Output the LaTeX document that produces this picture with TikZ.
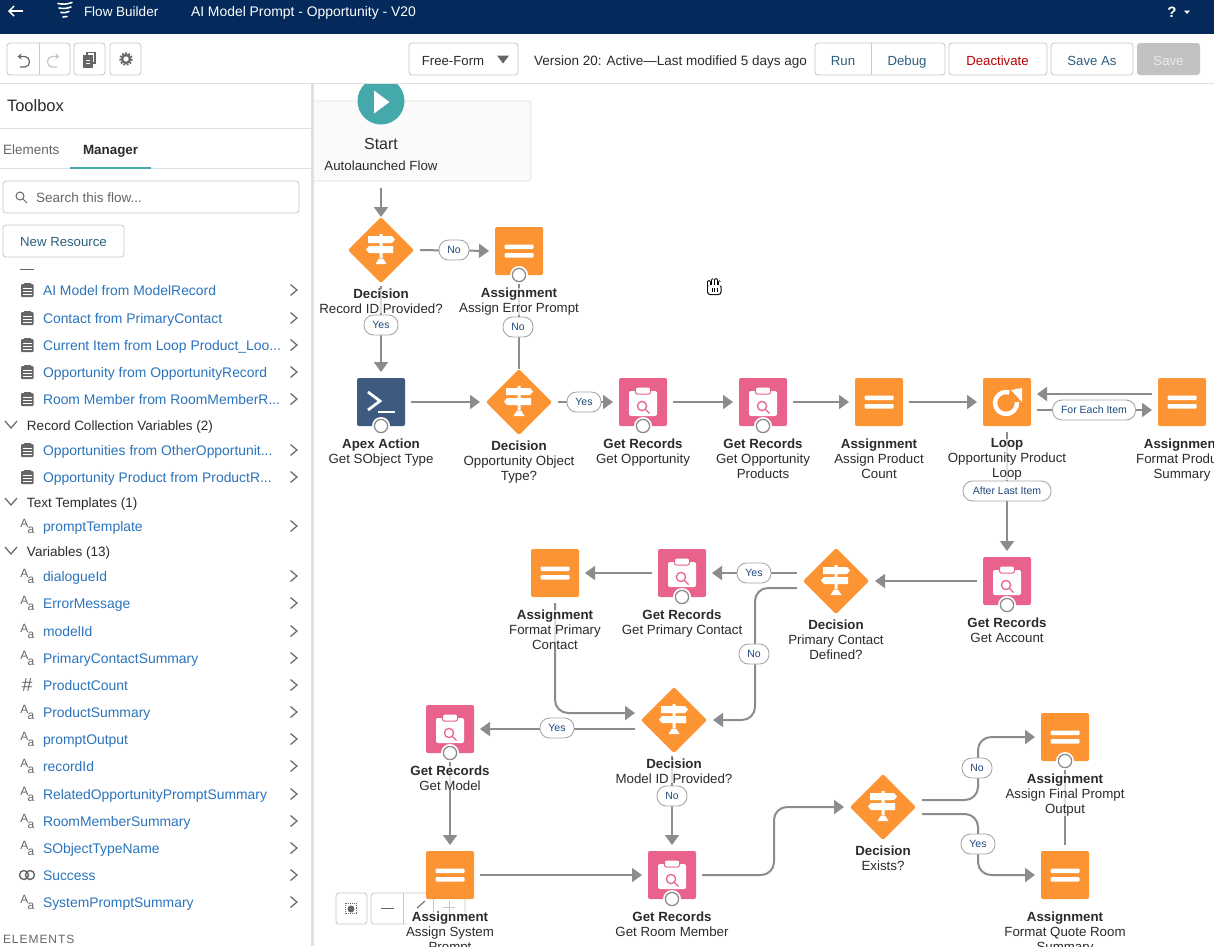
\documentclass[tikz,border=0pt]{standalone}
\usepackage{fontspec}
\setmainfont{Liberation Sans}
\usetikzlibrary{arrows.meta,shapes.geometric}

\definecolor{navyBar}{HTML}{032A5B}
\definecolor{flowOrange}{HTML}{FC9433}
\definecolor{flowPink}{HTML}{E8628C}
\definecolor{flowSlate}{HTML}{3F5A80}
\definecolor{flowTeal}{HTML}{45A9AC}
\definecolor{flowLine}{HTML}{8C8C8C}
\definecolor{paneLine}{HTML}{DEDFE1}
\definecolor{btnLine}{HTML}{C6C7C9}
\definecolor{pillLine}{HTML}{A6A7A9}
\definecolor{linkBlue}{HTML}{2B74BC}
\definecolor{btnBlue}{HTML}{2D5F80}
\definecolor{pillBlue}{HTML}{1E4A7A}
\definecolor{inkDark}{HTML}{2B2B2B}
\definecolor{iconGrey}{HTML}{666666}

\tikzset{
	every node/.style={inner sep=0pt, outer sep=0pt, text=inkDark},
	assignbox/.style={fill=flowOrange, rounded corners=2pt, minimum size=48pt},
	recbox/.style={fill=flowPink, rounded corners=2pt, minimum size=48pt},
	apexbox/.style={fill=flowSlate, rounded corners=2pt, minimum size=48pt},
	decbox/.style={diamond, fill=flowOrange, rounded corners=2pt, aspect=1, minimum width=66pt, minimum height=66pt},
	flowline/.style={draw=flowLine, line width=2pt, shorten <=6pt, shorten >=6pt, -{Triangle[width=14pt,length=10pt]}},
	flowplain/.style={draw=flowLine, line width=2pt, shorten <=6pt},
	pill/.style={draw=pillLine, fill=white, line width=0.9pt, rounded corners=9.5pt, minimum height=20pt, text=pillBlue, font=\fontsize{10.5}{12}\selectfont},
	flowcap/.style={anchor=north, align=center, yshift=-1.5pt, fill=white, fill opacity=.72, text opacity=1, font=\fontsize{13.3}{15}\selectfont},
	barbtn/.style={draw=btnLine, fill=white, line width=0.8pt, rounded corners=3pt},
	midtext/.style={anchor=center, text height=11.5pt, text depth=0pt},
	btntext/.style={midtext, text=btnBlue, font=\fontsize{13.2}{15}\selectfont},
	toolglyph/.style={draw=iconGrey, line width=1.2pt},
	rowtext/.style={anchor=west, text height=11.5pt, text depth=0pt, text=linkBlue, font=\fontsize{13.9}{15}\selectfont},
	headtext/.style={anchor=west, text height=11.5pt, text depth=0pt, font=\fontsize{13.5}{15}\selectfont},
	chevron/.style={draw=iconGrey, line width=1.2pt},
	pics/assignglyph/.style={code={
		\fill[white, rounded corners=1pt] (-14.5,-6.5) rectangle (14.5,-2);
		\fill[white, rounded corners=1pt] (-14.5,2) rectangle (14.5,6.5);
	}},
	pics/decglyph/.style={code={
		\fill[white] (-13,-14) -- (11,-14) -- (14,-10.5) -- (11,-7) -- (-13,-7) -- cycle;
		\fill[white] (-12,-4) -- (12,-4) -- (12,3) -- (-12,3) -- (-15,-0.5) -- cycle;
		\fill[white] (-1.5,-16) rectangle (1.5,-14) (-1.5,-7) rectangle (1.5,-4) (-1.5,3) rectangle (1.5,8);
		\fill[white] (-5.5,14) -- (-2,8.5) -- (2,8.5) -- (5.5,14) -- cycle;
	}},
	pics/recglyph/.style={code={
		\fill[white, rounded corners=2pt] (-14,-11) rectangle (14,14);
		\draw[fill=white, draw=flowPink, line width=1pt, rounded corners=2pt] (-7.5,-15) rectangle (7.5,-8);
		\draw[flowPink, line width=1.3pt] (-1,4) circle (4.6) (2.4,7.4) -- (6.5,11.5);
	}},
	pics/ringmark/.style={code={
		\fill[white] (0,0) circle (9);
		\draw[draw=flowLine, fill=white, line width=1.3pt] (0,0) circle (6.6);
	}}
}

% one row of the manager list, with its chevron
\newcommand{\rowchev}[1]{\draw[chevron] (290.5,#1-5.5) -- (297,#1) -- (290.5,#1+5.5);}
\newcommand{\recrow}[3]{
	\node[rowtext] (row#1) at (43,#2) {#3};
	\rowchev{#2}
	\fill[iconGrey, rounded corners=1pt] (21,#2-6) rectangle ++(12.5,13);
	\fill[iconGrey] (24,#2-7.5) rectangle ++(6.5,3);
	\draw[white, line width=0.9pt] (23,#2-2) -- ++(8.5,0) (23,#2+1) -- ++(8.5,0) (23,#2+4) -- ++(8.5,0);
}
\newcommand{\txtrow}[3]{
	\node[rowtext] (row#1) at (43,#2) {#3};
	\rowchev{#2}
	\node[text=iconGrey, font=\fontsize{12}{13}\selectfont] (row#1A) at (24.5,#2-3) {A};
	\node[text=iconGrey, font=\fontsize{12}{13}\selectfont] (row#1a) at (31,#2+4) {a};
}
\newcommand{\headrow}[3]{
	\node[headtext] (head#1) at (27,#2) {#3};
	\draw[chevron] (5,#2-4) -- (11,#2+3) -- (17,#2-4);
}

\begin{document}
\begin{tikzpicture}[x=1pt, y=-1pt]
	\useasboundingbox (0,0) rectangle (1214,946);
	\clip (0,0) rectangle (1214,946);
	\fill[white] (0,0) rectangle (1214,946);

	% canvas controls
	\draw[barbtn] (336,893) rectangle (367,924);
	\draw[barbtn] (371,893) rectangle (465,924);
	\draw[btnLine, line width=0.8pt] (403,893) -- (403,924) (433,893) -- (433,924);
	\draw[iconGrey, line width=0.9pt, densely dotted] (345,903) rectangle (356,913);
	\fill[iconGrey] (351,909) circle (3.5);
	\draw[iconGrey, line width=1pt] (381,908) -- (394,908);
	\draw[iconGrey, line width=1pt] (417,908) -- (425,901);
	\draw[btnLine, line width=1pt] (443,907) -- (455,907) (449,901) -- (449,913);

	% start card
	\node[draw=paneLine, fill=black!2, line width=0.7pt, rounded corners=3pt, minimum width=300pt, minimum height=80pt] (startCard) at (381,141) {};
	\node[circle, fill=flowTeal, minimum size=47pt] (startBtn) at (381,101) {};
	\fill[white] (374,90.5) -- (389.5,102) -- (374,113.5) -- cycle;
	\node[font=\fontsize{16}{18}\selectfont] (startName) at (381,144) {Start};
	\node[font=\fontsize{13.3}{15}\selectfont] (startKind) at (381,166) {Autolaunched Flow};

	% first row
	\node[decbox] (decRecord) at (381,250) {};
	\pic at (decRecord) {decglyph};
	\node[assignbox] (asgError) at (519,251) {};
	\pic at (asgError) {assignglyph};
	\node[apexbox] (apexType) at (381,402) {};
	\draw[white, line width=2.8pt] (368,392) -- (380,401) -- (368,410);
	\draw[white, line width=2pt] (378,412) -- (395,412);
	\node[decbox] (decType) at (519,402) {};
	\pic at (decType) {decglyph};
	\node[recbox] (recOpp) at (643,402) {};
	\pic at (recOpp) {recglyph};
	\node[recbox] (recProd) at (763,402) {};
	\pic at (recProd) {recglyph};
	\node[assignbox] (asgCount) at (879,402) {};
	\pic at (asgCount) {assignglyph};
	\node[assignbox] (loopProd) at (1007,402) {};
	\draw[white, line width=4.4pt] (1006,403) circle (11);
	\fill[flowOrange] (1006,403) -- (1026,401) -- (1026,384) -- (1012,384) -- cycle;
	\fill[white] (1022,388) -- (1022,402) -- (1011,390) -- cycle;
	\node[assignbox] (asgProd) at (1182,402) {};
	\pic at (asgProd) {assignglyph};

	% second row
	\node[recbox] (recAccount) at (1007,581) {};
	\pic at (recAccount) {recglyph};
	\node[decbox] (decContact) at (836,581) {};
	\pic at (decContact) {decglyph};
	\node[recbox] (recContact) at (682,573) {};
	\pic at (recContact) {recglyph};
	\node[assignbox] (asgContact) at (555,573) {};
	\pic at (asgContact) {assignglyph};

	% third row
	\node[decbox] (decModel) at (674,720) {};
	\pic at (decModel) {decglyph};
	\node[recbox] (recModel) at (450,729) {};
	\pic at (recModel) {recglyph};
	\node[assignbox] (asgSystem) at (450,875) {};
	\pic at (asgSystem) {assignglyph};
	\node[recbox] (recRoom) at (672,875) {};
	\pic at (recRoom) {recglyph};
	\node[decbox] (decExists) at (883,807) {};
	\pic at (decExists) {decglyph};
	\node[assignbox] (asgFinal) at (1065,737) {};
	\pic at (asgFinal) {assignglyph};
	\node[assignbox] (asgQuote) at (1065,875) {};
	\pic at (asgQuote) {assignglyph};

	\coordinate (bendContact) at (755,654);
	\coordinate (bendRoom) at (774,840);
	\coordinate (bendNo) at (978,768);
	\coordinate (bendYes) at (978,844);

	% connectors
	\draw[flowline, shorten <=7pt, shorten >=0pt] (startCard.south -| decRecord.north) -- (decRecord.north);
	\draw[flowline] (decRecord.east) -- (asgError.west);
	\draw[flowline, shorten <=3pt] (decRecord.south) -- (apexType.north);
	\draw[flowline] (apexType.east) -- (decType.west);
	\draw[flowplain, shorten <=0pt] (decType.north) -- (asgError.south);
	\draw[flowline] (decType.east) -- (recOpp.west);
	\draw[flowline] (recOpp.east) -- (recProd.west);
	\draw[flowline] (recProd.east) -- (asgCount.west);
	\draw[flowline] (asgCount.east) -- (loopProd.west);
	\draw[flowline] ([yshift=-8pt]loopProd.east) -- ([yshift=-8pt]asgProd.west);
	\draw[flowline] ([yshift=8pt]asgProd.west) -- ([yshift=8pt]loopProd.east);
	\draw[flowline] (loopProd.south) -- (recAccount.north);
	\draw[flowline] (recAccount.west) -- (decContact.east);
	\draw[flowline] ([yshift=8pt]decContact.west) -- (recContact.east);
	\draw[flowline] (recContact.west) -- (asgContact.east);
	\draw[flowline, rounded corners=13pt] ([yshift=-7pt]decContact.west) -| (bendContact) |- (decModel.east);
	\draw[flowline, rounded corners=13pt] (asgContact.south) |- ([yshift=7pt]decModel.west);
	\draw[flowline] ([yshift=-9pt]decModel.west) -- (recModel.east);
	\draw[flowline, shorten <=3pt] ([xshift=-2pt]decModel.south) -- (recRoom.north);
	\draw[flowline] (recModel.south) -- (asgSystem.north);
	\draw[flowline] (asgSystem.east) -- (recRoom.west);
	\draw[flowline, rounded corners=13pt] (recRoom.east) -| (bendRoom) |- (decExists.west);
	\draw[flowline, rounded corners=13pt] ([yshift=7pt]decExists.east) -| (bendNo) |- (asgFinal.west);
	\draw[flowline, rounded corners=13pt] ([yshift=-7pt]decExists.east) -| (bendYes) |- (asgQuote.west);
	\draw[flowplain] (asgQuote.north) -- (asgFinal.south);

	% rings
	\pic at (asgError.south) {ringmark};
	\pic at (apexType.south) {ringmark};
	\pic at (recOpp.south) {ringmark};
	\pic at (recProd.south) {ringmark};
	\pic at (recAccount.south) {ringmark};
	\pic at (recContact.south) {ringmark};
	\pic at (recModel.south) {ringmark};
	\pic at (recRoom.south) {ringmark};
	\pic at (asgFinal.south) {ringmark};

	% captions
	\node[flowcap] (capDecRecord) at (381,287) {\textbf{Decision}\\Record ID Provided?};
	\node[flowcap] (capAsgError) at (519,286) {\textbf{Assignment}\\Assign Error Prompt};
	\node[flowcap] (capApex) at (381,437) {\textbf{Apex Action}\\Get SObject Type};
	\node[flowcap] (capDecType) at (519,439) {\textbf{Decision}\\Opportunity Object\\Type?};
	\node[flowcap] (capRecOpp) at (643,437) {\textbf{Get Records}\\Get Opportunity};
	\node[flowcap] (capRecProd) at (763,437) {\textbf{Get Records}\\Get Opportunity\\Products};
	\node[flowcap] (capAsgCount) at (879,437) {\textbf{Assignment}\\Assign Product\\Count};
	\node[flowcap] (capLoop) at (1007,437) {\textbf{Loop}\\Opportunity Product\\Loop};
	\node[flowcap] (capAsgProd) at (1182,437) {\textbf{Assignment}\\Format Product\\Summary};
	\node[flowcap] (capRecAccount) at (1007,616) {\textbf{Get Records}\\Get Account};
	\node[flowcap] (capDecContact) at (836,618) {\textbf{Decision}\\Primary Contact\\Defined?};
	\node[flowcap] (capRecContact) at (682,608) {\textbf{Get Records}\\Get Primary Contact};
	\node[flowcap] (capAsgContact) at (555,608) {\textbf{Assignment}\\Format Primary\\Contact};
	\node[flowcap] (capDecModel) at (674,757) {\textbf{Decision}\\Model ID Provided?};
	\node[flowcap] (capRecModel) at (450,764) {\textbf{Get Records}\\Get Model};
	\node[flowcap] (capAsgSystem) at (450,910) {\textbf{Assignment}\\Assign System\\Prompt};
	\node[flowcap] (capRecRoom) at (672,910) {\textbf{Get Records}\\Get Room Member};
	\node[flowcap] (capDecExists) at (883,844) {\textbf{Decision}\\Exists?};
	\node[flowcap] (capAsgFinal) at (1065,772) {\textbf{Assignment}\\Assign Final Prompt\\Output};
	\node[flowcap] (capAsgQuote) at (1065,910) {\textbf{Assignment}\\Format Quote Room\\Summary};

	% connector labels
	\node[pill, minimum width=30pt] (pillRecordNo) at (454,250) {No};
	\node[pill, minimum width=34pt] (pillRecordYes) at (381,325) {Yes};
	\node[pill, minimum width=30pt] (pillTypeNo) at (518,327) {No};
	\node[pill, minimum width=34pt] (pillTypeYes) at (584,402) {Yes};
	\node[pill, minimum width=83pt] (pillEach) at (1094,410) {For Each Item};
	\node[pill, minimum width=88pt] (pillLast) at (1007,491) {After Last Item};
	\node[pill, minimum width=34pt] (pillContactYes) at (754,573) {Yes};
	\node[pill, minimum width=30pt] (pillContactNo) at (754,654) {No};
	\node[pill, minimum width=34pt] (pillModelYes) at (557,728) {Yes};
	\node[pill, minimum width=30pt] (pillModelNo) at (672,796) {No};
	\node[pill, minimum width=30pt] (pillExistsNo) at (977,768) {No};
	\node[pill, minimum width=34pt] (pillExistsYes) at (978,844) {Yes};

	% hand cursor
	\draw[black, line width=3.6pt, line cap=round] (709,285) -- (709,282) (712.5,284) -- (712.5,280) (716,284) -- (716,280) (719.5,285) -- (719.5,282);
	\fill[black, rounded corners=3pt] (707,284) rectangle (721.5,295);
	\draw[white, line width=2pt, line cap=round] (709,285) -- (709,282) (712.5,285) -- (712.5,280) (716,285) -- (716,280) (719.5,285) -- (719.5,282);
	\fill[white, rounded corners=2.5pt] (708,285) rectangle (720.5,294);
	\draw[black, line width=0.6pt] (712,288) -- (712,292) (714.5,288) -- (714.5,292) (717,288) -- (717,292);

	% left pane
	\fill[white] (0,83) rectangle (311,946);
	\fill[paneLine] (311,83) rectangle (314,946);
	\node[headtext, font=\fontsize{16.5}{18}\selectfont] (paneTitle) at (7,106) {Toolbox};
	\draw[paneLine, line width=0.8pt] (0,128) -- (311,128) (0,168) -- (311,168);
	\node[headtext, text=iconGrey] (tabElements) at (3,149) {Elements};
	\node[headtext, font=\fontsize{13.4}{15}\selectfont\bfseries] (tabManager) at (83,149) {Manager};
	\fill[flowTeal] (70,167) rectangle (151,169);
	\draw[barbtn] (3,181) rectangle (299,213);
	\draw[iconGrey, line width=1pt] (20,196) circle (4) (23,199) -- (27,203);
	\node[headtext, text=iconGrey] (searchText) at (36,197) {Search this flow...};
	\draw[barbtn] (3,225) rectangle (124,257);
	\node[btntext] (newResource) at (63.5,241) {New Resource};
	\fill[iconGrey] (20,268.5) rectangle (34,270);

	\recrow{Model}{290}{AI Model from ModelRecord}
	\recrow{Contact}{318}{Contact from PrimaryContact}
	\recrow{Current}{345}{Current Item from Loop Product\_Loo...}
	\recrow{Opp}{372}{Opportunity from OpportunityRecord}
	\recrow{Room}{399}{Room Member from RoomMemberR...}
	\headrow{Collect}{425}{Record Collection Variables (2)}
	\recrow{Others}{450}{Opportunities from OtherOpportunit...}
	\recrow{Product}{477}{Opportunity Product from ProductR...}
	\headrow{Templates}{502}{Text Templates (1)}
	\txtrow{Prompt}{526}{promptTemplate}
	\headrow{Vars}{551}{Variables (13)}
	\txtrow{Dialogue}{576}{dialogueId}
	\txtrow{Error}{603}{ErrorMessage}
	\txtrow{ModelId}{631}{modelId}
	\txtrow{Primary}{658}{PrimaryContactSummary}
	\node[rowtext] (rowCount) at (43,685) {ProductCount};
	\rowchev{685}
	\node[text=iconGrey, font=\fontsize{19}{20}\selectfont\itshape] (rowCountMark) at (27,685) {\#};
	\txtrow{Summary}{712}{ProductSummary}
	\txtrow{Output}{739}{promptOutput}
	\txtrow{RecId}{766}{recordId}
	\txtrow{Related}{794}{RelatedOpportunityPromptSummary}
	\txtrow{Member}{821}{RoomMemberSummary}
	\txtrow{TypeName}{848}{SObjectTypeName}
	\node[rowtext] (rowSuccess) at (43,875) {Success};
	\rowchev{875}
	\draw[iconGrey, line width=1.4pt] (24,875) circle (4.5) (30,875) circle (4.5);
	\txtrow{System}{902}{SystemPromptSummary}
	\node[headtext, text=iconGrey, font=\fontsize{12}{14}\selectfont\addfontfeature{LetterSpace=8}] (paneElements) at (3,938) {ELEMENTS};

	% toolbar
	\fill[white] (0,34) rectangle (1214,83);
	\draw[paneLine, line width=0.8pt] (0,83.5) -- (1214,83.5);
	\draw[barbtn] (7,43) rectangle (70,75);
	\draw[btnLine, line width=0.8pt] (39,43) -- (39,75);
	\draw[toolglyph, -{Stealth[length=4pt,width=6pt]}] (20,67) -- (25,67) .. controls (31,67) and (31,56.5) .. (25,56.5) -- (17.5,56.5);
	\draw[btnLine, line width=1.2pt, -{Stealth[length=4pt,width=6pt]}] (57,67) -- (52,67) .. controls (46,67) and (46,56.5) .. (52,56.5) -- (59.5,56.5);
	\draw[barbtn] (74,43) rectangle (105,75);
	\draw[toolglyph, fill=iconGrey] (84,56) rectangle (92,67);
	\draw[toolglyph] (87,56) -- (87,52.5) -- (95,52.5) -- (95,63) -- (92,63);
	\draw[white, line width=0.8pt] (86,60) -- (90,60) (86,63) -- (90,63);
	\draw[barbtn] (110,43) rectangle (141,75);
	\draw[iconGrey, line width=2.2pt] (126,59) circle (4);
	\draw[iconGrey, line width=1.8pt, dash pattern=on 1.8pt off 1.5pt] (126,59) circle (5.8);
	\draw[barbtn] (409,43) rectangle (518,75);
	\node[btntext, text=inkDark] (modeText) at (453,60) {Free-Form};
	\fill[iconGrey] (497,55.5) -- (509,55.5) -- (503,63.5) -- cycle;
	\node[midtext, font=\fontsize{13.5}{15}\selectfont] (versionText) at (670.5,60) {Version 20: Active—Last modified 5 days ago};
	\draw[barbtn] (815,43) rectangle (945,75);
	\draw[btnLine, line width=0.8pt] (871,43) -- (871,75);
	\node[btntext] (btnRun) at (843,60) {Run};
	\node[btntext] (btnDebug) at (907,60) {Debug};
	\draw[barbtn] (949,43) rectangle (1047,75);
	\node[btntext, text=red!75!black] (btnDeactivate) at (997.5,60) {Deactivate};
	\draw[barbtn] (1051,43) rectangle (1133,75);
	\node[btntext] (btnSaveAs) at (1092,60) {Save As};
	\fill[black!24, rounded corners=3pt] (1137,43) rectangle (1200,75);
	\node[btntext, text=black!8] (btnSave) at (1168.5,60) {Save};

	% header
	\fill[navyBar] (0,0) rectangle (1214,34);
	\draw[white, line width=1.5pt, -{Straight Barb[length=5pt,width=10pt]}] (23,11) -- (8,11);
	\draw[white, line width=1.6pt, line cap=round] (58,3.5) to [bend right=15] (72,2.5) (59,8) to [bend right=15] (71,7) (61,12.5) to [bend right=15] (69,11.5) (63,17) -- (67,16.5);
	\node[headtext, text=white] (barApp) at (84,11) {Flow Builder};
	\node[headtext, text=white, font=\fontsize{13.9}{15}\selectfont] (barFlow) at (191,11) {AI Model Prompt - Opportunity - V20};
	\node[midtext, text=white, font=\fontsize{15}{17}\selectfont\bfseries] (barHelp) at (1172,12) {?};
	\fill[white] (1184,10.5) -- (1190,10.5) -- (1187,14) -- cycle;
\end{tikzpicture}
\end{document}
